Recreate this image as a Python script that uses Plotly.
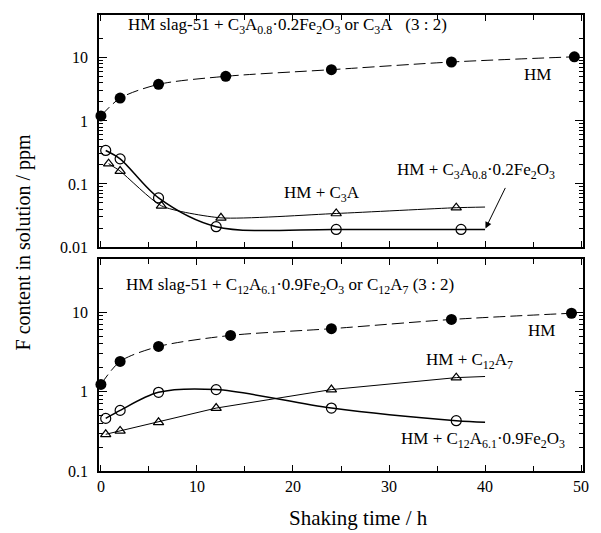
import numpy as np
import plotly.graph_objects as go

# ---------------- data ----------------
# Top panel: HM slag-51 + C3A0.8·0.2Fe2O3 or C3A (3:2)
top_hm_t = [0, 2, 6, 13, 24, 36.5, 49.3]
top_hm_f = [1.2, 2.3, 3.8, 5.1, 6.5, 8.6, 10.4]

top_fe_t = [0.5, 2, 6, 12, 24.5, 37.5]
top_fe_f = [0.34, 0.25, 0.06, 0.021, 0.019, 0.019]
top_fe_line_t = [0.5, 2, 6, 12, 24.5, 37.5, 40]
top_fe_line_f = [0.34, 0.25, 0.06, 0.021, 0.019, 0.019, 0.019]

top_c3a_t = [0.8, 2, 6.3, 12.5, 24.5, 37]
top_c3a_f = [0.21, 0.16, 0.045, 0.029, 0.034, 0.042]
top_c3a_line_t = [0.8, 2, 6.3, 12.5, 24.5, 37, 40]
top_c3a_line_f = [0.21, 0.16, 0.045, 0.029, 0.034, 0.042, 0.043]

# Bottom panel: HM slag-51 + C12A6.1·0.9Fe2O3 or C12A7 (3:2)
bot_hm_t = [0, 2, 6, 13.5, 24, 36.5, 49]
bot_hm_f = [1.23, 2.4, 3.7, 5.1, 6.2, 8.1, 9.7]

bot_fe_t = [0.5, 2, 6, 12, 24, 37]
bot_fe_f = [0.46, 0.58, 0.98, 1.06, 0.62, 0.43]
bot_fe_line_t = [0.5, 2, 6, 12, 24, 37, 40]
bot_fe_line_f = [0.46, 0.58, 0.98, 1.06, 0.62, 0.43, 0.41]

bot_c12_t = [0.5, 2, 6, 12, 24, 37]
bot_c12_f = [0.29, 0.32, 0.41, 0.62, 1.06, 1.5]
bot_c12_line_t = [0.5, 2, 6, 12, 24, 37, 40]
bot_c12_line_f = [0.29, 0.32, 0.41, 0.62, 1.06, 1.5, 1.55]

x_ticks = [0, 10, 20, 30, 40, 50]
top_y_ticks = [0.01, 0.1, 1, 10]
top_y_labels = ["0.01", "0.1", "1", "10"]
bot_y_ticks = [0.1, 1, 10]
bot_y_labels = ["0.1", "1", "10"]

# ---------------- figure ----------------
FONT = "Liberation Serif"
W, H = 601, 533
ML, MR, MT, MB = 99, 15, 15, 62

fig = go.Figure()

def add_panel(xa, ya, hm_t, hm_f, fe_lt, fe_lf, fe_t, fe_f, c_lt, c_lf, c_t, c_f, c_shape):
    fig.add_trace(go.Scatter(x=hm_t, y=hm_f, mode="lines", xaxis=xa, yaxis=ya,
                             line=dict(color="black", width=1, dash="12px,5px", shape="spline", smoothing=0.8),
                             showlegend=False, hoverinfo="skip"))
    fig.add_trace(go.Scatter(x=fe_lt, y=fe_lf, mode="lines", xaxis=xa, yaxis=ya,
                             line=dict(color="black", width=1.5, shape="spline", smoothing=0.9),
                             showlegend=False, hoverinfo="skip"))
    fig.add_trace(go.Scatter(x=c_lt, y=c_lf, mode="lines", xaxis=xa, yaxis=ya,
                             line=dict(color="black", width=1, shape=c_shape, smoothing=0.6),
                             showlegend=False, hoverinfo="skip"))
    fig.add_trace(go.Scatter(x=hm_t, y=hm_f, mode="markers", xaxis=xa, yaxis=ya, cliponaxis=False,
                             marker=dict(symbol="circle", size=11, color="black"),
                             showlegend=False))
    fig.add_trace(go.Scatter(x=fe_t, y=fe_f, mode="markers", xaxis=xa, yaxis=ya, cliponaxis=False,
                             marker=dict(symbol="circle-open", size=10, color="black", line=dict(width=1.2)),
                             showlegend=False))
    fig.add_trace(go.Scatter(x=c_t, y=c_f, mode="markers", xaxis=xa, yaxis=ya, cliponaxis=False,
                             marker=dict(symbol="triangle-up-open", size=9, color="black", line=dict(width=1.2)),
                             showlegend=False))

add_panel("x", "y", top_hm_t, top_hm_f, top_fe_line_t, top_fe_line_f, top_fe_t, top_fe_f,
          top_c3a_line_t, top_c3a_line_f, top_c3a_t, top_c3a_f, "spline")
add_panel("x2", "y2", bot_hm_t, bot_hm_f, bot_fe_line_t, bot_fe_line_f, bot_fe_t, bot_fe_f,
          bot_c12_line_t, bot_c12_line_f, bot_c12_t, bot_c12_f, "linear")

def minor_vals(lo, hi):
    vals = []
    for e in range(lo, hi):
        for d in range(2, 10):
            vals.append(d * 10.0 ** e)
    return vals

top_minor = minor_vals(-2, 1) + [20]
bot_minor = minor_vals(-1, 1) + [20]

ph = H - MT - MB
def py2paper(py):
    return (H - MB - py) / ph
def px2paper(px):
    return (px - ML) / (W - ML - MR)

top_dom = [py2paper(247), 1.0]
bot_dom = [0.0, py2paper(259)]

xcommon = dict(range=[-0.2, 50.2], showline=True, linecolor="black", linewidth=1.5, mirror="ticks",
               ticks="inside", ticklen=6, tickwidth=1.2, tickcolor="black",
               tickvals=x_ticks, showgrid=False, zeroline=False,
               minor=dict(tickvals=[5, 15, 25, 35, 45], ticks="inside", ticklen=5, tickwidth=1.2,
                          tickcolor="black", showgrid=False),
               tickfont=dict(family=FONT, size=16, color="black"))

ycommon = dict(type="log", showline=True, linecolor="black", linewidth=1.5, mirror="ticks",
               ticks="inside", ticklen=8, tickwidth=1.2, tickcolor="black", showgrid=False,
               zeroline=False, tickfont=dict(family=FONT, size=16, color="black"),
               ticklabelstandoff=6)

fig.update_layout(
    width=W, height=H,
    margin=dict(l=ML, r=MR, t=MT, b=MB),
    paper_bgcolor="white", plot_bgcolor="white",
    font=dict(family=FONT, color="black"),
    xaxis=dict(**xcommon, anchor="y", showticklabels=False, matches="x2"),
    xaxis2=dict(**xcommon, anchor="y2"),
    yaxis=dict(**ycommon, domain=top_dom, anchor="x", range=[-2, 1.68],
               tickvals=top_y_ticks, ticktext=top_y_labels,
               minor=dict(tickvals=top_minor, ticks="inside", ticklen=4, tickwidth=1, tickcolor="black",
                          showgrid=False)),
    yaxis2=dict(**ycommon, domain=bot_dom, anchor="x2", range=[-1, 1.67],
                tickvals=bot_y_ticks, ticktext=bot_y_labels,
                minor=dict(tickvals=bot_minor, ticks="inside", ticklen=4, tickwidth=1, tickcolor="black",
                           showgrid=False)),
)

ann_font = dict(family=FONT, size=17, color="black")

def add_text(text, px, py, xanchor="left"):
    fig.add_annotation(text=text, x=px2paper(px), y=py2paper(py), xref="paper", yref="paper",
                       xanchor=xanchor, yanchor="middle", showarrow=False, font=ann_font)

add_text("HM slag-51 + C<sub>3</sub>A<sub>0.8</sub>·0.2Fe<sub>2</sub>O<sub>3</sub> or C<sub>3</sub>A&nbsp;&nbsp;&nbsp;(3 : 2)",
         126, 26)
add_text("HM", 540, 74, "center")
add_text("HM + C<sub>3</sub>A", 323, 194, "center")
add_text("HM + C<sub>3</sub>A<sub>0.8</sub>·0.2Fe<sub>2</sub>O<sub>3</sub>", 478, 171, "center")

add_text("HM slag-51 + C<sub>12</sub>A<sub>6.1</sub>·0.9Fe<sub>2</sub>O<sub>3</sub> or C<sub>12</sub>A<sub>7</sub> (3 : 2)",
         124, 286)
add_text("HM", 544, 331, "center")
add_text("HM + C<sub>12</sub>A<sub>7</sub>", 472, 361, "center")
add_text("HM + C<sub>12</sub>A<sub>6.1</sub>·0.9Fe<sub>2</sub>O<sub>3</sub>", 485, 440, "center")

# arrow pointing at the end of the open-circle curve (top panel)
fig.add_annotation(x=40, y=np.log10(top_fe_line_f[-1]), xref="x", yref="y", text="",
                   showarrow=True, arrowhead=2, arrowsize=1.3, arrowwidth=1, arrowcolor="black",
                   ax=21, ay=-43, standoff=1)

# axis titles
fig.add_annotation(text="Shaking time / h", x=px2paper(360), y=py2paper(518), xref="paper", yref="paper",
                   xanchor="center", yanchor="middle", showarrow=False,
                   font=dict(family=FONT, size=21, color="black"))
fig.add_annotation(text="F content in solution / ppm", x=px2paper(23), y=py2paper(242),
                   xref="paper", yref="paper", xanchor="center", yanchor="middle", showarrow=False,
                   textangle=-90, font=dict(family=FONT, size=20, color="black"))

fig.write_html("out.html")
